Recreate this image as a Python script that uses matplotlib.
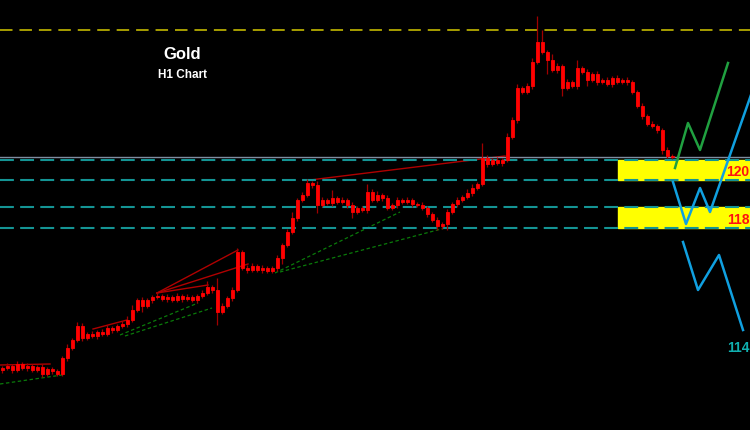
import matplotlib
matplotlib.use("Agg")
import matplotlib.pyplot as plt
import numpy as np

plt.rcParams['lines.scale_dashes'] = False

# gold H1 closes (candle index 0..134)
closes = [1101, 1102, 1100, 1103, 1101, 1102, 1100, 1101.5, 1098, 1100.5, 1099.5, 1098, 1106, 1111, 1115,
          1122, 1116, 1118, 1117, 1119, 1118, 1121, 1120, 1122, 1123, 1125, 1130, 1135, 1132, 1135,
          1136.5, 1137, 1135.5, 1136.5, 1135, 1137, 1135.5, 1136.5, 1135, 1137, 1138.5, 1141.5, 1140, 1129, 1132,
          1136, 1140, 1159, 1151, 1150, 1152, 1150, 1151, 1149.5, 1151, 1156, 1162.5, 1169, 1176, 1185,
          1187.5, 1193.5, 1192.5, 1182.5, 1185, 1183.5, 1186, 1184, 1185, 1182.5, 1179, 1181, 1180, 1189, 1185,
          1187.5, 1186, 1181, 1182.5, 1185, 1184, 1185, 1183, 1182.5, 1181, 1178, 1175, 1172, 1173, 1179,
          1183, 1185, 1186.5, 1188.5, 1191, 1193, 1206, 1203, 1205, 1203.5, 1205, 1216.5, 1225, 1241, 1239,
          1242, 1254, 1264, 1259, 1255, 1250, 1252, 1241, 1244, 1242, 1251, 1249, 1245, 1248, 1244,
          1245, 1243, 1246, 1244, 1245, 1244, 1239, 1232, 1227, 1223, 1222, 1220, 1210, 1207, 1206.5]
first_open = 1100

up_wick = [1, 1.5, 1, 1.5, 1, 1.5, 1, 1, 1.5, 1, 1, 1, 1, 2, 1,
           2, 1.5, 1, 1.5, 1, 1.5, 1.5, 1, 1, 1.5, 2, 2.5, 1, 1.5, 1,
           1, 1.5, 1, 1.5, 1, 1.5, 1, 1.5, 1, 1, 1.5, 3, 1, 6, 1.5,
           1, 1.5, 2, 1, 1.5, 1.5, 1, 1.5, 1, 1, 1.5, 1, 1.5, 3, 1,
           1.5, 2, 1, 2, 1.5, 1, 4, 1, 1.5, 1, 1.5, 1, 1, 4, 1.5,
           2, 1, 1.5, 1, 1.5, 1, 1.5, 1, 1, 1.5, 1, 1, 1.5, 1, 1.5,
           1, 1.5, 1, 2, 2, 1, 7.5, 1.5, 1, 1.5, 1, 2, 1.5, 2, 1,
           1.5, 2, 13, 6, 1, 3, 1.5, 1, 1.5, 1, 4, 1, 1.5, 1, 1.5,
           1, 1.5, 1, 1.5, 1, 1.5, 1, 1, 1.5, 1, 1.5, 1, 1, 1.5, 1]
dn_wick = [1.5, 1, 1.5, 1, 1, 1.5, 1, 1, 1.5, 1, 1.5, 1, 1, 1.5, 1,
           1, 1.5, 1, 1, 1.5, 1, 1, 1.5, 1, 1, 1.5, 1, 1, 3, 1,
           1.5, 1, 1, 1.5, 1, 1, 1.5, 1, 1, 1.5, 1, 1, 1.5, 6.5, 1,
           1, 1.5, 1, 1, 1.5, 1, 1, 1.5, 1, 1, 1.5, 3, 1, 1, 1.5,
           1, 1, 1.5, 4, 1, 1, 1.5, 1, 1, 1.5, 3, 1, 1, 1.5, 1,
           1, 1.5, 1, 1, 1.5, 1, 1, 1.5, 1, 1, 1.5, 1, 2, 1.5, 3,
           1, 1.5, 1, 1, 1.5, 1, 1, 1.5, 1, 1, 1.5, 1, 1, 1.5, 1,
           1, 1.5, 1, 1, 7, 1, 1.5, 4, 1, 1, 1.5, 1, 3, 1, 1.5,
           1, 1, 1.5, 1, 1, 1.5, 1, 1, 1.5, 1, 1, 1.5, 2, 1, 1]

# levels
top_level = 1270
gray_level = 1206.5
cyan_levels = [1205, 1195, 1181.5, 1171]
zones = [(1195, 1205), (1171, 1181.5)]
zone_start = 123.2
zone_labels = ["120", "118", "114"]
zone_label_y = [1199, 1175, 1111]

# trendlines (index, price)
red_lines = [
    ([-0.4, 9.6], [1102.5, 1103]),
    ([18.2, 25], [1120.5, 1125]),
    ([31, 47.2], [1138.5, 1160]),
    ([31, 49.2], [1138.5, 1153]),
    ([31, 41.2], [1138.5, 1142.5]),
    ([61.6, 100.6], [1195, 1207]),
]
green_lines = [
    ([-0.4, 12], [1093, 1097.5]),
    ([23.6, 39.2], [1117.5, 1133.5]),
    ([24.6, 42], [1117, 1131]),
    ([54.6, 79.6], [1148.5, 1179]),
    ([55.6, 88.6], [1149, 1171]),
]

# projected paths
green_path_x = [134.6, 137.2, 139.6, 145.2]
green_path_y = [1201, 1223.5, 1210, 1253.5]
blue_path1_x = [134.2, 136.8, 139.6, 141.6, 150]
blue_path1_y = [1194, 1173, 1191, 1179, 1239]
blue_path2_x = [136.2, 139.2, 143.4, 148.2]
blue_path2_y = [1164, 1140, 1157.5, 1120]

fig = plt.figure(figsize=(7.5, 4.3), dpi=100, facecolor='black')
ax = fig.add_axes([0, 0, 1, 1])
ax.set_facecolor('black')
ax.set_xlim(-0.4, 149.6)
ax.set_ylim(1070, 1285)
ax.axis('off')

# horizontal levels
ax.axhline(top_level, color='#d4c800', lw=1.1, dashes=(9, 5))
for lv in cyan_levels:
    ax.axhline(lv, color='#149494', lw=1.5, dashes=(10, 4.5), zorder=3)
ax.axhline(gray_level, color='#7f8ca0', lw=1.0, zorder=3)

for lo, hi in zones:
    ax.fill_between([zone_start, 152], lo, hi, color='#ffff00', zorder=2)

for xs, ys in green_lines:
    ax.plot(xs, ys, color='#0a7a0a', lw=0.9, dashes=(2.5, 1.8), zorder=1)
for xs, ys in red_lines:
    ax.plot(xs, ys, color='#b00000', lw=1.0, zorder=1)

# candles
idx = np.arange(len(closes))
closes_a = np.array(closes, dtype=float)
opens = np.concatenate([[first_open], closes_a[:-1]])
top = np.maximum(opens, closes_a)
bot = np.minimum(opens, closes_a)
highs = top + np.array(up_wick)
lows = bot - np.array(dn_wick)
ax.vlines(idx, lows, highs, color='#a00000', lw=0.9, zorder=4)
ax.bar(idx, top - bot, bottom=bot, width=0.6, color='#ff0000',
       edgecolor='#ff0000', linewidth=0.6, zorder=5)

# projections
ax.plot(green_path_x, green_path_y, color='#20a040', lw=1.8, zorder=6)
ax.plot(blue_path1_x, blue_path1_y, color='#10a0e0', lw=1.8, zorder=6)
ax.plot(blue_path2_x, blue_path2_y, color='#10a0e0', lw=1.8, zorder=6)

label_colors = ['#ff1010', '#ff1010', '#10b0b0']
for t, y, c in zip(zone_labels, zone_label_y, label_colors):
    ax.text(0.999, y, t, color=c, fontsize=10, fontweight='bold', va='center', ha='right',
            family='Liberation Sans', zorder=7, transform=ax.get_yaxis_transform())

ax.text(0.243, 0.874, 'Gold', transform=ax.transAxes, color='white', fontsize=12,
        fontweight='bold', ha='center', va='center', family='Liberation Sans')
ax.text(0.243, 0.826, 'H1 Chart', transform=ax.transAxes, color='white', fontsize=8.5,
        fontweight='bold', ha='center', va='center', family='Liberation Sans')

plt.savefig('out.png', dpi=100, facecolor='black')
plt.close()
